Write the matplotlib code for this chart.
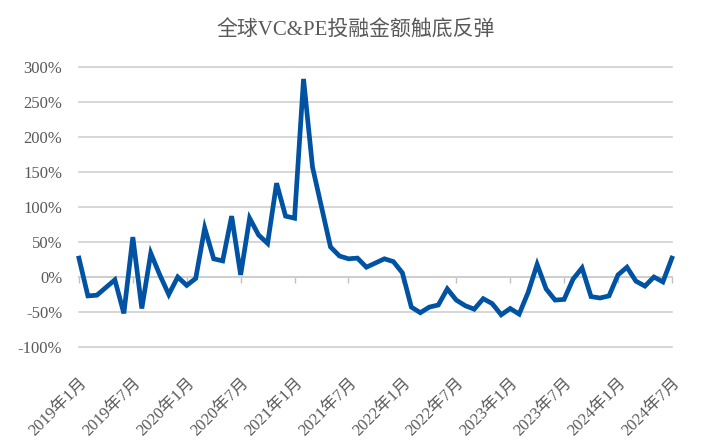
import numpy as np
import matplotlib
matplotlib.use('Agg')
from matplotlib import pyplot as plt
from matplotlib.ticker import FuncFormatter

# monthly growth (%), 2019-01 .. 2024-07
growth = [27, -27, -26, -15, -4, -52, 57, -45, 34, 3, -25, 0,
          -12, -2, 70, 26, 23, 87, 3, 84, 60, 48, 134, 87,
          84, 283, 157, 100, 43, 30, 26, 27, 14, 20, 26, 22,
          6, -43, -51, -43, -40, -17, -33, -41, -46, -31, -38, -54,
          -45, -53, -22, 18, -17, -33, -32, -3, 13, -28, -30, -27,
          3, 14, -6, -13, 0, -7, 27]
months = np.arange(len(growth))

tick_labels = ['2019年1月', '2019年7月', '2020年1月', '2020年7月',
               '2021年1月', '2021年7月', '2022年1月', '2022年7月',
               '2023年1月', '2023年7月', '2024年1月', '2024年7月']
tick_pos = np.arange(0, len(growth), 6)

y_ticks = [-100, -50, 0, 50, 100, 150, 200, 250, 300]

fonts = ['Liberation Serif', 'Noto Sans CJK SC']
plt.rcParams['font.family'] = fonts
grey = '#595959'

fig = plt.figure(figsize=(7.11, 4.44), dpi=100)
ax = fig.add_axes([0.111, 0.2185, 0.834, 0.6305])

ax.plot(months, growth, color='#0052a3', lw=3.4, solid_joinstyle='miter',
        clip_on=False, zorder=3)

ax.set_xlim(0, len(growth) - 1)
ax.set_ylim(-100, 300)
ax.set_yticks(y_ticks)
ax.yaxis.set_major_formatter(FuncFormatter(lambda v, p: '%d%%' % v))
ax.grid(axis='y', color='#d0d0d0', lw=1.2)
for gl in ax.get_ygridlines():
    gl.set_clip_on(False)
ax.set_axisbelow(True)
for s in ax.spines.values():
    s.set_visible(False)
ax.tick_params(axis='y', length=0, labelsize=12, labelcolor=grey, pad=12)

ax.set_xticks(tick_pos)
ax.set_xticklabels(tick_labels, rotation=45, ha='right', va='top',
                   rotation_mode='anchor')
ax.tick_params(axis='x', length=0, labelsize=12, labelcolor=grey, pad=20)

# category axis crossing at 0%
sec = ax.secondary_xaxis(0.25)
sec.set_xticks(tick_pos)
sec.set_xticklabels([])
sec.tick_params(length=4, color='#c0c0c0', width=1)
sec.spines['bottom'].set_color('#c0c0c0')
sec.spines['bottom'].set_linewidth(1.2)

fig.text(0.5, 0.93, '全球VC&PE投融金额触底反弹', ha='center', va='center',
         fontsize=15, color=grey)

fig.savefig('out.png', dpi=100)
